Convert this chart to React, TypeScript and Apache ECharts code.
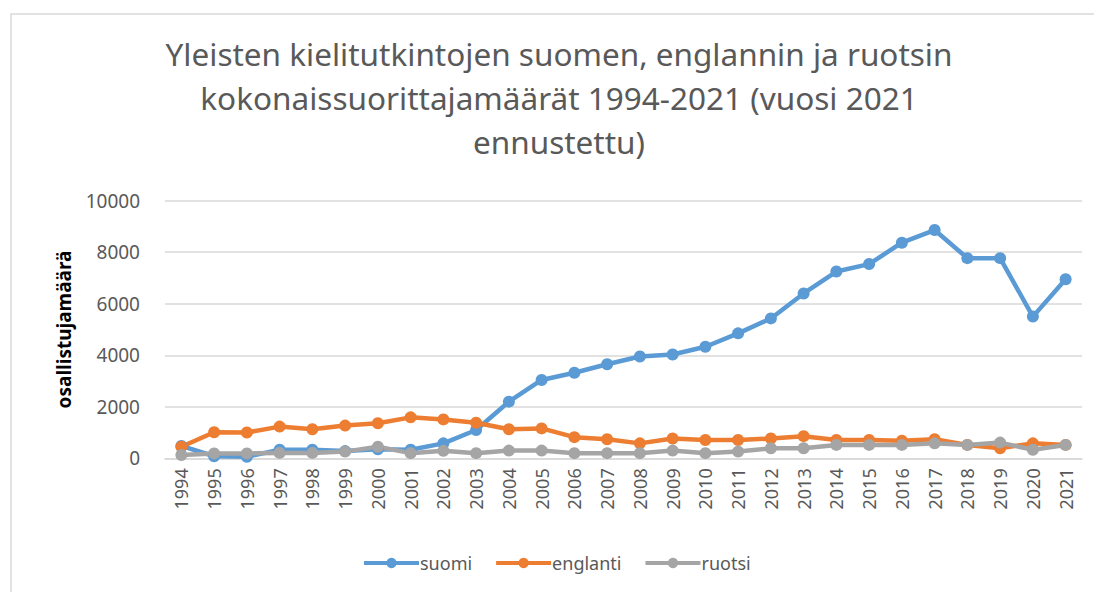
import React, { useEffect, useRef } from 'react';
import * as echarts from 'echarts';

const years = ['1994','1995','1996','1997','1998','1999','2000','2001','2002','2003','2004','2005','2006','2007','2008','2009','2010','2011','2012','2013','2014','2015','2016','2017','2018','2019','2020','2021'];
const suomi = [480, 80, 60, 330, 330, 280, 350, 330, 580, 1100, 2200, 3040, 3320, 3650, 3950, 4030, 4330, 4850, 5430, 6400, 7250, 7540, 8370, 8860, 7770, 7770, 5500, 6950];
const englanti = [450, 1010, 1000, 1230, 1130, 1270, 1360, 1590, 1510, 1380, 1130, 1160, 820, 740, 580, 770, 710, 710, 770, 860, 710, 710, 680, 740, 520, 390, 580, 520];
const ruotsi = [130, 190, 190, 210, 210, 260, 450, 200, 290, 200, 300, 300, 200, 200, 200, 300, 200, 260, 390, 390, 520, 520, 520, 580, 520, 610, 330, 520];
const seriesNames = ['suomi', 'englanti', 'ruotsi'];
const colors = ['#5b9bd5', '#ed7d31', '#a5a5a5'];
const titleText = 'Yleisten kielitutkintojen suomen, englannin ja ruotsin\nkokonaissuorittajamäärät 1994-2021 (vuosi 2021\nennustettu)';
const yAxisName = 'osallistujamäärä';

export default function App() {
  const ref = useRef<HTMLDivElement>(null);
  useEffect(() => {
    if (!ref.current) return;
    const chart = echarts.init(ref.current, null, { renderer: 'svg' });
    const font = 'Noto Sans';
    const data = [suomi, englanti, ruotsi];
    chart.setOption({
      animation: false,
      backgroundColor: '#ffffff',
      graphic: [
        {
          type: 'rect',
          shape: { x: 11, y: 14, width: 1200, height: 700 },
          style: { fill: 'none', stroke: '#d9d9d9', lineWidth: 1.5 },
          silent: true,
        },
        {
          type: 'text',
          x: 559,
          y: 31,
          style: {
            text: titleText,
            fill: '#595959',
            fontSize: 31.5,
            fontFamily: font,
            textAlign: 'center',
            textVerticalAlign: 'top',
            lineHeight: 44,
          },
        },
      ],
      grid: { left: 165, right: 12, top: 200.7, bottom: 133.7 },
      legend: {
        left: 357,
        top: 549,
        itemWidth: 55,
        itemHeight: 13,
        itemGap: 22,
        lineStyle: { width: 4 },
        textStyle: { color: '#595959', fontSize: 18, fontFamily: font, padding: [0, 0, 0, -4] },
        data: seriesNames,
      },
      xAxis: {
        type: 'category',
        data: years,
        boundaryGap: true,
        axisLine: { show: true, lineStyle: { color: '#d9d9d9', width: 1.5 } },
        axisTick: { show: false },
        axisLabel: { interval: 0, rotate: 90, margin: 10, color: '#595959', fontSize: 18, fontFamily: font },
      },
      yAxis: {
        type: 'value',
        min: 0,
        max: 10000,
        interval: 2000,
        name: yAxisName,
        nameLocation: 'middle',
        nameRotate: 90,
        nameGap: 92,
        nameTextStyle: { color: '#000000', fontSize: 19, fontWeight: 'bold', fontFamily: font },
        axisLine: { show: false },
        axisTick: { show: false },
        axisLabel: { margin: 25, color: '#595959', fontSize: 19, fontFamily: font, formatter: (v: number) => String(v) },
        splitLine: { lineStyle: { color: '#d9d9d9', width: 1.5 } },
      },
      series: seriesNames.map((name, i) => ({
        name,
        type: 'line',
        data: data[i],
        symbol: 'circle',
        symbolSize: 12,
        lineStyle: { color: colors[i], width: 4.5 },
        itemStyle: { color: colors[i] },
      })),
    });
    return () => chart.dispose();
  }, []);
  return <div ref={ref} style={{ position: 'fixed', left: 0, top: 0, width: 1094, height: 592 }} />;
}
